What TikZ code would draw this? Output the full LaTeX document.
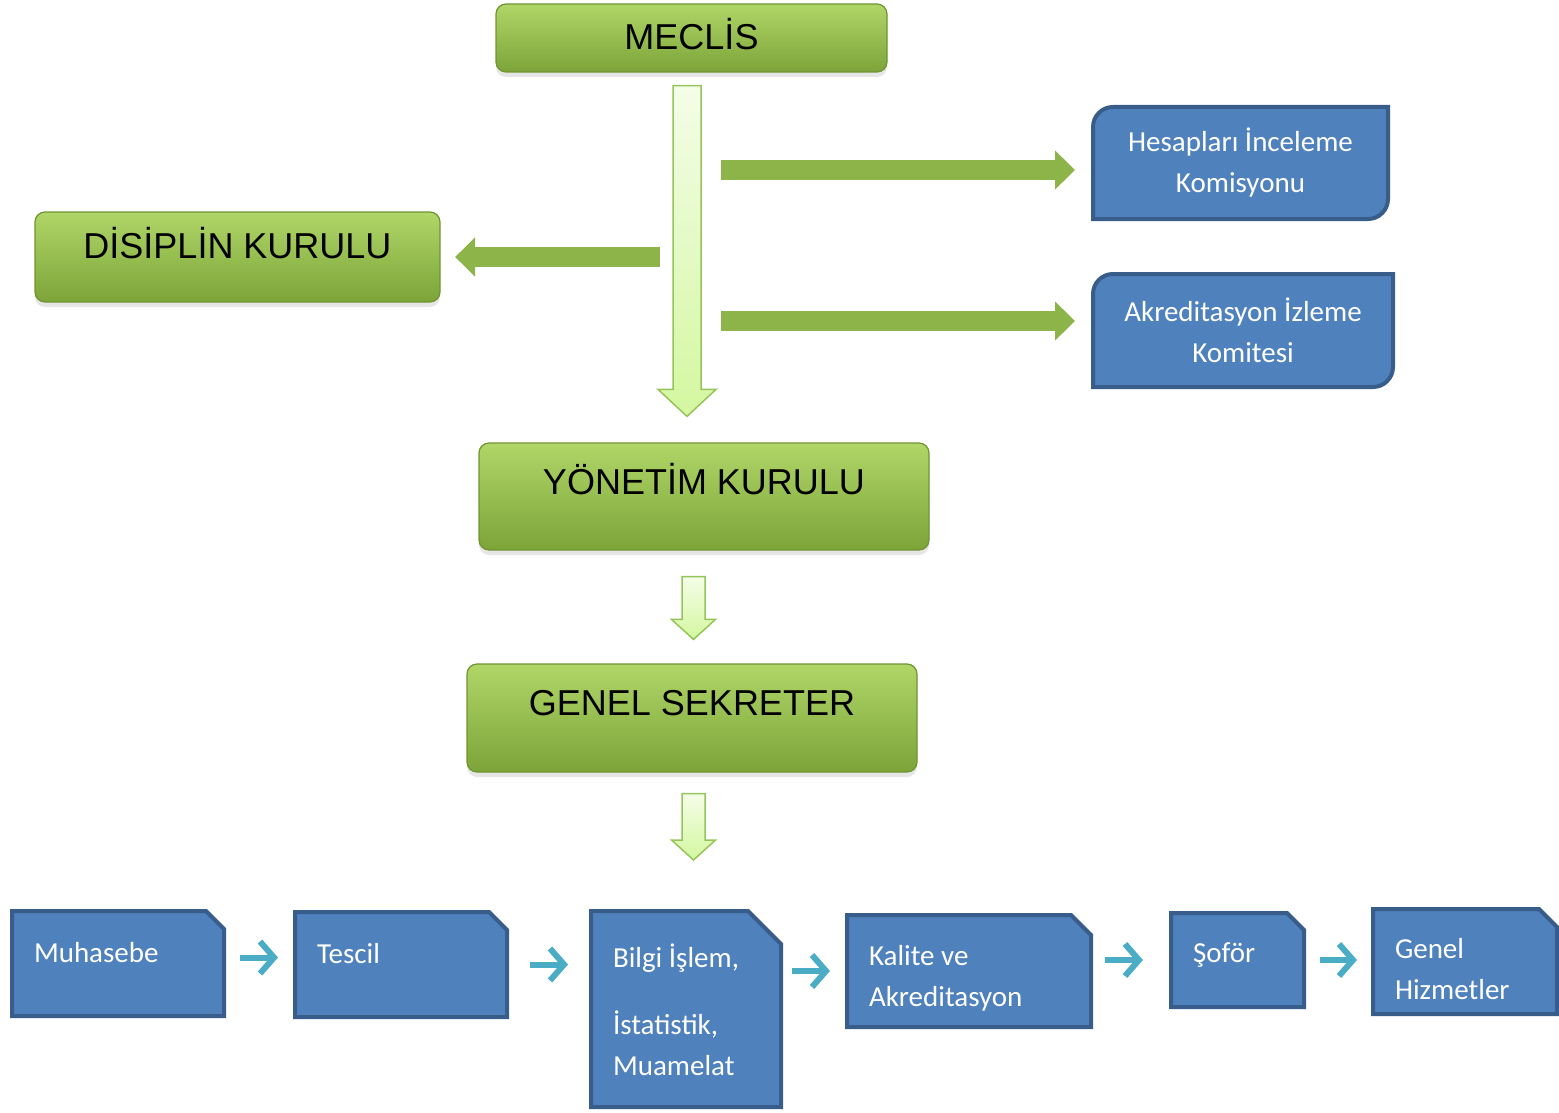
\documentclass[tikz,border=0pt]{standalone}
\usepackage{fontspec}
\usetikzlibrary{arrows.meta, calc, shadows, backgrounds}
\newfontfamily\arialfont{Liberation Sans}
\newfontfamily\calibrifont{Carlito}
\definecolor{kgreen}{RGB}{124,164,56}
\definecolor{kgreentop}{RGB}{176,214,104}
\definecolor{kgreenline}{RGB}{112,148,50}
\definecolor{ablue}{RGB}{79,129,189}
\definecolor{abluedark}{RGB}{56,93,138}
\definecolor{okgreen}{RGB}{141,180,72}
\definecolor{paletop}{RGB}{244,253,232}
\definecolor{palebottom}{RGB}{212,247,160}
\definecolor{paleline}{RGB}{150,196,90}
\definecolor{acyan}{RGB}{75,172,198}

\begin{document}
\begin{tikzpicture}[x=0.5pt, y=-0.5pt,
    kurul/.style={rectangle, draw=kgreenline, line width=0.6pt, rounded corners=5pt, top color=kgreentop, bottom color=kgreen, drop shadow={opacity=0.2, shadow xshift=0pt, shadow yshift=-2.5pt}, font=\arialfont\fontsize{18}{21}\selectfont, text height=12.9pt, inner sep=0pt},
    komite/.style={rectangle, outer sep=0pt, inner sep=0pt, text=white, align=flush center, font=\calibrifont\fontsize{14.5}{20.5}\selectfont},
    birim/.style={rectangle, outer sep=0pt, inner xsep=11pt, inner ysep=0pt, text=white, align=flush left, text height=10pt, font=\calibrifont\fontsize{14.5}{20.5}\selectfont},
    mavi/.style={draw=abluedark, line width=2pt, fill=ablue},
    akis/.style={draw=okgreen, line width=10pt, -{Triangle[length=10pt, width=19pt]}},
    okucu/.style={draw=acyan, line width=3pt, -{Straight Barb[length=7pt, width=16pt]}},
    hollow/.style args={#1/#2/#3}{draw=paleline, line width=0.75pt, top color=paletop, bottom color=palebottom,
        to path={($(\tikztostart)+(-#1,0)$) -- ($(\tikztotarget)+(-#1,-#3)$) -- ($(\tikztotarget)+(-#2,-#3)$) -- (\tikztotarget) -- ($(\tikztotarget)+(#2,-#3)$) -- ($(\tikztotarget)+(#1,-#3)$) -- ($(\tikztostart)+(#1,0)$) -- cycle}}
]
\useasboundingbox (0,0) rectangle (1559,1113);

% Kurullar
\node[kurul, minimum width=195.5pt, minimum height=34pt, text depth=1pt] (Meclis) at (691.5,38) {MECLİS};
\node[kurul, minimum width=202.5pt, minimum height=45pt, text depth=11pt] (Disiplin) at (237.5,257) {DİSİPLİN KURULU};
\node[kurul, minimum width=225pt, minimum height=53.5pt, text depth=14.5pt] (Yonetim) at (704,496.5) {YÖNETİM KURULU};
\node[kurul, minimum width=225pt, minimum height=54pt, text depth=15pt] (GenelSek) at (692,718) {GENEL SEKRETER};

% Komisyon ve komite
\node[komite, minimum width=147.5pt, minimum height=56pt] (Hesap) at (1240.5,163) {Hesapları İnceleme\\Komisyonu};
\node[komite, minimum width=150pt, minimum height=56.5pt] (Akred) at (1243,330.5) {Akreditasyon İzleme\\Komitesi};

% Birimler
\node[birim, minimum width=106pt, minimum height=52.5pt, text width=84pt, text depth=11.5pt] (Muhasebe) at (118,963.5) {Muhasebe};
\node[birim, minimum width=106pt, minimum height=52.5pt, text width=84pt, text depth=11.5pt] (Tescil) at (401,964.5) {Tescil};
\node[birim, minimum width=95pt, minimum height=98pt, text width=73pt, text depth=52pt] (Bilgi) at (686,1009) {Bilgi İşlem,\\[13pt]İstatistik,\\Muamelat};
\node[birim, minimum width=122pt, minimum height=56pt, text width=100pt, text depth=16pt] (Kalite) at (969,971) {Kalite ve\\Akreditasyon};
\node[birim, minimum width=66.5pt, minimum height=47pt, text width=44.5pt, text depth=8pt] (Sofor) at (1237.5,960) {Şoför};
\node[birim, minimum width=92pt, minimum height=52.5pt, text width=70pt, text depth=13.5pt] (GenelHiz) at (1465,961.5) {Genel\\Hizmetler};

\begin{pgfonlayer}{background}
\draw[mavi] (Hesap.north) -- (Hesap.north east) [rounded corners=10pt] -- (Hesap.south east) [sharp corners] -- (Hesap.south west) [rounded corners=10pt] -- (Hesap.north west) [sharp corners] -- cycle;
\draw[mavi] (Akred.north) -- (Akred.north east) [rounded corners=10pt] -- (Akred.south east) [sharp corners] -- (Akred.south west) [rounded corners=10pt] -- (Akred.north west) [sharp corners] -- cycle;
\draw[mavi] (Muhasebe.south west) -- (Muhasebe.north west) -- ([xshift=-9pt]Muhasebe.north east) -- ([yshift=-9pt]Muhasebe.north east) -- (Muhasebe.south east) -- cycle;
\draw[mavi] (Tescil.south west) -- (Tescil.north west) -- ([xshift=-9pt]Tescil.north east) -- ([yshift=-9pt]Tescil.north east) -- (Tescil.south east) -- cycle;
\draw[mavi] (Bilgi.south west) -- (Bilgi.north west) -- ([xshift=-16.5pt]Bilgi.north east) -- ([yshift=-16.5pt]Bilgi.north east) -- (Bilgi.south east) -- cycle;
\draw[mavi] (Kalite.south west) -- (Kalite.north west) -- ([xshift=-10pt]Kalite.north east) -- ([yshift=-10pt]Kalite.north east) -- (Kalite.south east) -- cycle;
\draw[mavi] (Sofor.south west) -- (Sofor.north west) -- ([xshift=-8.5pt]Sofor.north east) -- ([yshift=-8.5pt]Sofor.north east) -- (Sofor.south east) -- cycle;
\draw[mavi] (GenelHiz.south west) -- (GenelHiz.north west) -- ([xshift=-9pt]GenelHiz.north east) -- ([yshift=-9pt]GenelHiz.north east) -- (GenelHiz.south east) -- cycle;
\end{pgfonlayer}

% Connections
\path[hollow=14/29/27] ($(Meclis.south)+(-4.5,13)$) to ($(Meclis.south |- Yonetim.north)+(-4.5,-26)$);
\path[hollow=11.5/22/20] ($(GenelSek.north |- Yonetim.south)+(1.5,26)$) to ($(GenelSek.north)+(1.5,-24)$);
\path[hollow=11.5/22/20] ($(GenelSek.south)+(1.5,21)$) to ($(GenelSek.south |- Bilgi.north)+(1.5,-51)$);

\draw[akis, shorten <=14.75pt, shorten >=9pt] ($(Meclis.south |- Hesap.west)+(0,7)$) -- ($(Hesap.west)+(0,7)$);
\draw[akis, shorten <=14.75pt, shorten >=9pt] ($(Meclis.south |- Akred.west)+(0,-9.5)$) -- ($(Akred.west)+(0,-9.5)$);
\draw[akis, shorten <=15.75pt, shorten >=7.25pt] (Meclis.south |- Disiplin.east) -- (Disiplin.east);

\draw[okucu, shorten <=8pt, shorten >=8.5pt] ($(Muhasebe.east)+(0,-6)$) -- ($(Muhasebe.east -| Tescil.west)+(0,-6)$);
\draw[okucu, shorten <=11.5pt, shorten >=11.5pt] (Tescil.east) -- (Tescil.east -| Bilgi.west);
\draw[okucu, shorten <=5.5pt, shorten >=8.5pt] (Bilgi.east |- Kalite.west) -- (Kalite.west);
\draw[okucu, shorten <=7pt, shorten >=14pt] (Kalite.east |- Sofor.west) -- (Sofor.west);
\draw[okucu, shorten <=8pt, shorten >=8pt] (Sofor.east) -- (Sofor.east -| GenelHiz.west);

\end{tikzpicture}
\end{document}
